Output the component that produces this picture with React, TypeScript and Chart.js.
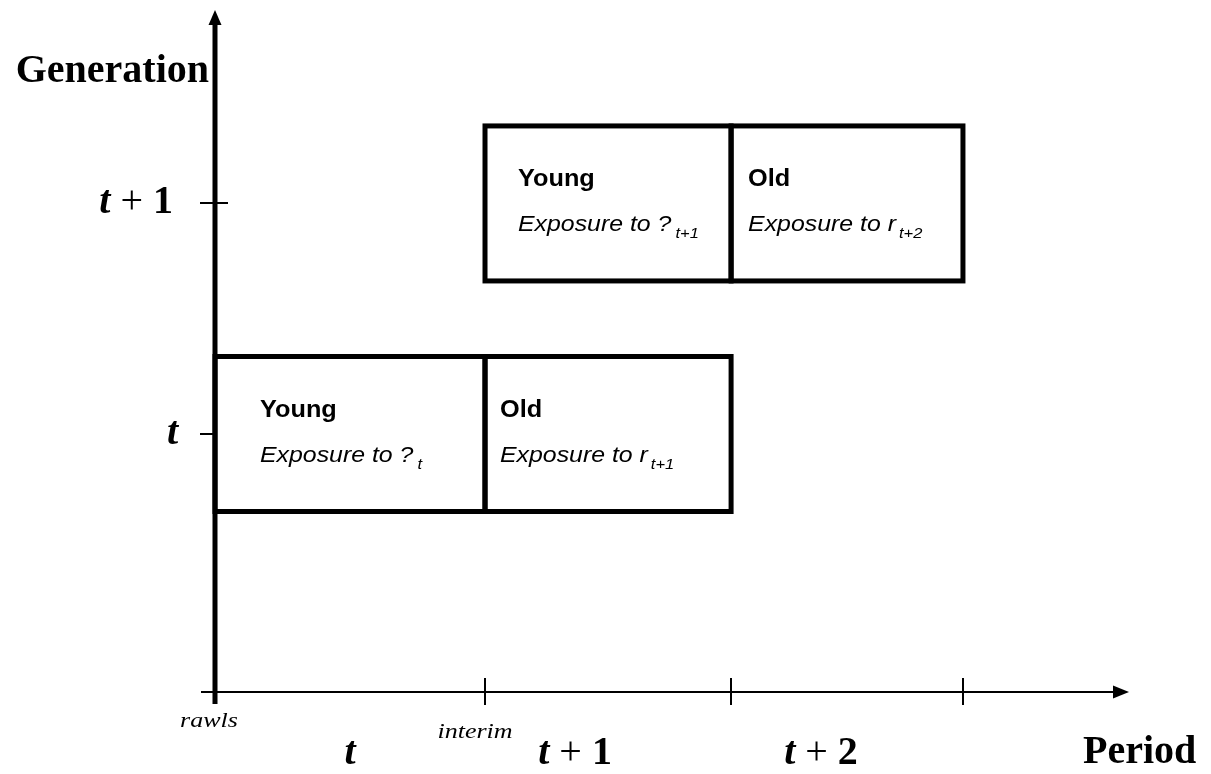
import React, { useEffect, useRef } from "react";
import { Chart, registerables } from "chart.js";

Chart.register(...registerables);

// ---- Data ----
const generationValues = [1, 2]; // generation t, generation t+1
const generationLabels = ["t", "t + 1"];
const periodBounds = [0, 1.083, 2.07, 3.0]; // period boundaries on the time axis
const periodLabels = ["t", "t + 1", "t + 2"];
const boundaryNotes = ["rawls", "interim"];
const boxGeneration = [1, 1, 2, 2];
const boxStart = [0, 1.083, 1.083, 2.07];
const boxEnd = [1.083, 2.07, 2.07, 3.0];
const boxStage = ["Young", "Old", "Young", "Old"];
const boxSymbol = ["?", "r", "?", "r"];
const boxSubscript = ["t", "t+1", "t+1", "t+2"];
const axisTitleY = "Generation";
const axisTitleX = "Period";

// ---- Layout / style (not data) ----
const SERIF = '"Liberation Serif", "Times New Roman", serif';
const SANS = '"Liberation Sans", Arial, sans-serif';
const SANS_STRETCH = 1.1;
const SERIF_NOTE_STRETCH = 1.3;
const boxTextDx = [45, 15, 33, 17];
const periodLabelDx = [0, -33, -26];
const boundaryNoteDx = [-6, -10];
const boundaryNoteDy = [35, 46];

type Seg = { text: string; font: string; dy?: number; sx?: number; gap?: number };

function drawSegs(ctx: CanvasRenderingContext2D, segs: Seg[], x: number, y: number, align: "left" | "center" | "right" = "left") {
  ctx.save();
  ctx.textAlign = "left";
  ctx.textBaseline = "alphabetic";
  let total = 0;
  const widths = segs.map((s) => {
    ctx.font = s.font;
    const w = ctx.measureText(s.text).width * (s.sx ?? 1) + (s.gap ?? 0);
    total += w;
    return w;
  });
  let cx = x;
  if (align === "center") cx = x - total / 2;
  else if (align === "right") cx = x - total;
  segs.forEach((s, i) => {
    ctx.font = s.font;
    ctx.save();
    ctx.translate(cx + (s.gap ?? 0), y + (s.dy ?? 0));
    ctx.scale(s.sx ?? 1, 1);
    ctx.fillStyle = "#000";
    ctx.fillText(s.text, 0, 0);
    ctx.restore();
    cx += widths[i];
  });
  ctx.restore();
}

function tLabel(label: string, size: number): Seg[] {
  // "t + 1" -> bold italic t, plus sign, bold digit
  const parts = label.split(" ");
  const segs: Seg[] = [{ text: parts[0], font: `italic bold ${size}px ${SERIF}` }];
  if (parts.length > 1) {
    segs.push({ text: " " + parts[1] + " ", font: `${size}px ${SERIF}` });
    segs.push({ text: parts[2], font: `bold ${size}px ${SERIF}` });
  }
  return segs;
}

const diagramPlugin = {
  id: "diagram",
  beforeDatasetsDraw(chart: any) {
    const ctx: CanvasRenderingContext2D = chart.ctx;
    const xs = chart.scales.x;
    const ys = chart.scales.y;
    const x0 = xs.getPixelForValue(0);
    ctx.save();
    ctx.strokeStyle = "#000";
    ctx.lineWidth = 2;
    generationValues.forEach((g) => {
      const py = Math.round(ys.getPixelForValue(g));
      ctx.beginPath();
      ctx.moveTo(x0 - 15, py);
      ctx.lineTo(x0 + 13, py);
      ctx.stroke();
    });
    ctx.restore();
  },
  afterDatasetsDraw(chart: any) {
    const ctx: CanvasRenderingContext2D = chart.ctx;
    const xs = chart.scales.x;
    const ys = chart.scales.y;
    const area = chart.chartArea;
    const meta = chart.getDatasetMeta(0);

    // Box outlines from the bar elements
    ctx.save();
    ctx.strokeStyle = "#000";
    ctx.lineWidth = 5;
    ctx.lineJoin = "miter";
    meta.data.forEach((el: any) => {
      const { x, y, base, height } = el.getProps(["x", "y", "base", "height"], true);
      const l = Math.min(x, base);
      const r = Math.max(x, base);
      ctx.strokeRect(l, y - height / 2, r - l, height);
    });
    ctx.restore();

    // Box texts
    meta.data.forEach((el: any, i: number) => {
      const { x, y, base } = el.getProps(["x", "y", "base"], true);
      const l = Math.min(x, base) + boxTextDx[i];
      drawSegs(ctx, [{ text: boxStage[i], font: `bold 23px ${SANS}`, sx: SANS_STRETCH }], l, y - 17);
      const subGap = boxSymbol[i] === "r" ? 3 : 4;
      drawSegs(
        ctx,
        [
          { text: "Exposure to " + boxSymbol[i], font: `italic 22px ${SANS}`, sx: 1.13 },
          { text: boxSubscript[i], font: `italic 15px ${SANS}`, sx: 1.1, dy: 7, gap: subGap },
        ],
        l,
        y + 28
      );
    });

    // Axes
    const ax = xs.getPixelForValue(0);
    const ay = ys.getPixelForValue(ys.min);
    ctx.save();
    ctx.fillStyle = "#000";
    ctx.strokeStyle = "#000";
    ctx.lineWidth = 5;
    ctx.beginPath();
    ctx.moveTo(ax, area.top + 12);
    ctx.lineTo(ax, ay + 12);
    ctx.stroke();
    ctx.beginPath();
    ctx.moveTo(ax, area.top);
    ctx.lineTo(ax - 6.5, area.top + 15);
    ctx.lineTo(ax + 6.5, area.top + 15);
    ctx.closePath();
    ctx.fill();
    ctx.lineWidth = 2;
    ctx.beginPath();
    ctx.moveTo(ax - 14, ay);
    ctx.lineTo(area.right - 12, ay);
    ctx.stroke();
    ctx.beginPath();
    ctx.moveTo(area.right, ay);
    ctx.lineTo(area.right - 16, ay - 6.5);
    ctx.lineTo(area.right - 16, ay + 6.5);
    ctx.closePath();
    ctx.fill();
    periodBounds.slice(1).forEach((p) => {
      const px = Math.round(xs.getPixelForValue(p));
      ctx.beginPath();
      ctx.moveTo(px, ay - 14);
      ctx.lineTo(px, ay + 13);
      ctx.stroke();
    });
    ctx.restore();

    // Axis labels
    drawSegs(ctx, [{ text: axisTitleY, font: `bold 40px ${SERIF}` }], ax - 6, 82, "right");
    const genLabelRight = [178, 173];
    generationValues.forEach((g, i) => {
      const py = ys.getPixelForValue(g);
      drawSegs(ctx, tLabel(generationLabels[i], 40), genLabelRight[i], py + 10, "right");
    });
    periodLabels.forEach((lab, i) => {
      const mid = (xs.getPixelForValue(periodBounds[i]) + xs.getPixelForValue(periodBounds[i + 1])) / 2;
      drawSegs(ctx, tLabel(lab, 40), mid + periodLabelDx[i], 764, "center");
    });
    boundaryNotes.forEach((note, i) => {
      const px = xs.getPixelForValue(periodBounds[i]);
      drawSegs(ctx, [{ text: note, font: `italic 20px ${SERIF}`, sx: SERIF_NOTE_STRETCH }], px + boundaryNoteDx[i], ay + boundaryNoteDy[i], "center");
    });
    drawSegs(ctx, [{ text: axisTitleX, font: `bold 40px ${SERIF}` }], 1083, 763, "left");
  },
};

export default function App() {
  const ref = useRef<HTMLCanvasElement | null>(null);
  useEffect(() => {
    if (!ref.current) return;
    const chart = new Chart(ref.current, {
      type: "bar",
      data: {
        datasets: [
          {
            data: boxGeneration.map((g, i) => ({ x: [boxStart[i], boxEnd[i]], y: g })) as any,
            backgroundColor: "#ffffff",
            borderWidth: 0,
            barThickness: 155,
          },
        ],
      },
      options: {
        indexAxis: "y",
        responsive: false,
        animation: false,
        events: [],
        layout: { padding: { left: 215, right: 82, top: 10, bottom: 82 } },
        scales: {
          x: { type: "linear", min: 0, max: 3.666, display: false, offset: false },
          y: { type: "linear", min: -0.119, max: 2.839, display: false, offset: false },
        },
        plugins: {
          legend: { display: false },
          tooltip: { enabled: false },
          title: { display: false },
        },
      } as any,
      plugins: [diagramPlugin],
    });
    return () => chart.destroy();
  }, []);
  return (
    <div style={{ position: "fixed", left: 0, top: 0, width: 1211, height: 774, background: "#fff" }}>
      <canvas ref={ref} width={1211} height={774} style={{ display: "block", width: 1211, height: 774 }} />
    </div>
  );
}
